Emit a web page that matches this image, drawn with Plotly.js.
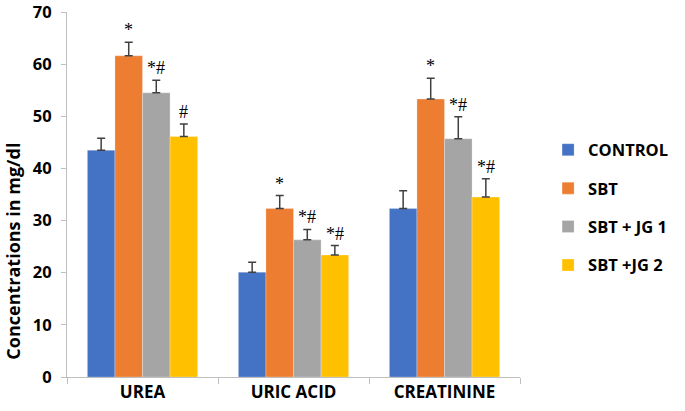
<!DOCTYPE html>
<html>
<head>
<meta charset="utf-8">
<script src="https://cdn.plot.ly/plotly-3.0.1.min.js"></script>
<style>html,body{margin:0;padding:0;background:#fff;}#chart{width:685px;height:411px;}</style>
</head>
<body>
<div id="chart"></div>
<script>
const categories = ["UREA", "URIC ACID", "CREATININE"];
const seriesNames = ["CONTROL", "SBT", "SBT + JG 1", "SBT +JG 2"];
const control = [43.5, 20.1, 32.3];
const sbt = [61.6, 32.3, 53.3];
const sbtJg1 = [54.5, 26.3, 45.7];
const sbtJg2 = [46.1, 23.4, 34.5];
const controlErr = [2.3, 1.9, 3.4];
const sbtErr = [2.6, 2.5, 4.0];
const sbtJg1Err = [2.4, 2.0, 4.2];
const sbtJg2Err = [2.4, 1.8, 3.5];
const controlMarks = ["", "", ""];
const sbtMarks = ["*", "*", "*"];
const sbtJg1Marks = ["*#", "*#", "*#"];
const sbtJg2Marks = ["#", "*#", "*#"];
const yTicks = [0, 10, 20, 30, 40, 50, 60, 70];
const yTitle = "Concentrations in mg/dl";

const colors = ["#4472C4", "#ED7D31", "#A5A5A5", "#FFC000"];
const values = [control, sbt, sbtJg1, sbtJg2];
const errs = [controlErr, sbtErr, sbtJg1Err, sbtJg2Err];
const marks = [controlMarks, sbtMarks, sbtJg1Marks, sbtJg2Marks];
const bargap = 0.27;
const barW = (1 - bargap) / 4;

const traces = values.map((v, i) => ({
  type: "bar",
  name: seriesNames[i],
  x: categories,
  y: v,
  legendgroup: "g" + i,
  marker: {color: colors[i], line: {color: "rgba(255,255,255,0.5)", width: 0.5}},
  error_y: {type: "data", symmetric: false, array: errs[i], arrayminus: v.map(() => 0),
            color: "#404040", thickness: 1.5, width: 4}
}));

const annotations = [];
values.forEach((v, i) => {
  v.forEach((val, c) => {
    if (!marks[i][c]) return;
    annotations.push({
      x: c + (i - 1.5) * barW, xref: "x",
      y: val + errs[i][c], yref: "y",
      text: marks[i][c], showarrow: false,
      yanchor: "bottom", yshift: 0,
      font: {family: "Liberation Serif, serif", size: 18, color: "#000"}
    });
  });
});
annotations.push({
  text: yTitle, textangle: -90, showarrow: false,
  xref: "paper", yref: "paper", x: 0, xshift: -54, xanchor: "center",
  y: 0.42, yanchor: "middle", yshift: -28,
  font: {family: "Open Sans, sans-serif", size: 18, color: "#000", weight: "bold"}
});

const layout = {
  width: 685, height: 411,
  margin: {l: 67, r: 136, t: 12, b: 34},
  paper_bgcolor: "#fff", plot_bgcolor: "#fff",
  barmode: "group", bargap: bargap, bargroupgap: 0,
  showlegend: true,
  legend: {x: 1.062, xanchor: "left", y: 0.67, yanchor: "top",
           traceorder: "grouped", tracegroupgap: 14,
           font: {family: "Open Sans, sans-serif", size: 16.5, color: "#000", weight: "bold"}},
  xaxis: {type: "category", tickson: "boundaries", showline: true, linecolor: "#bfbfbf", linewidth: 1,
          ticks: "outside", ticklen: 6, tickcolor: "#bfbfbf", showgrid: false,
          tickfont: {family: "Open Sans, sans-serif", size: 17, color: "#000", weight: "bold"}},
  yaxis: {range: [0, 70], tickmode: "array", tickvals: yTicks, ticktext: yTicks.map(String),
          showline: true, linecolor: "#bfbfbf", linewidth: 1, automargin: false,
          ticklabeloverflow: "allow",
          ticks: "outside", ticklen: 5, tickcolor: "#bfbfbf", showgrid: false, zeroline: false,
          ticklabelstandoff: 6,
          tickfont: {family: "Open Sans, sans-serif", size: 16.5, color: "#000", weight: "bold"}},
  annotations: annotations
};

Plotly.newPlot("chart", traces, layout, {displayModeBar: false, staticPlot: true});
</script>
</body>
</html>
